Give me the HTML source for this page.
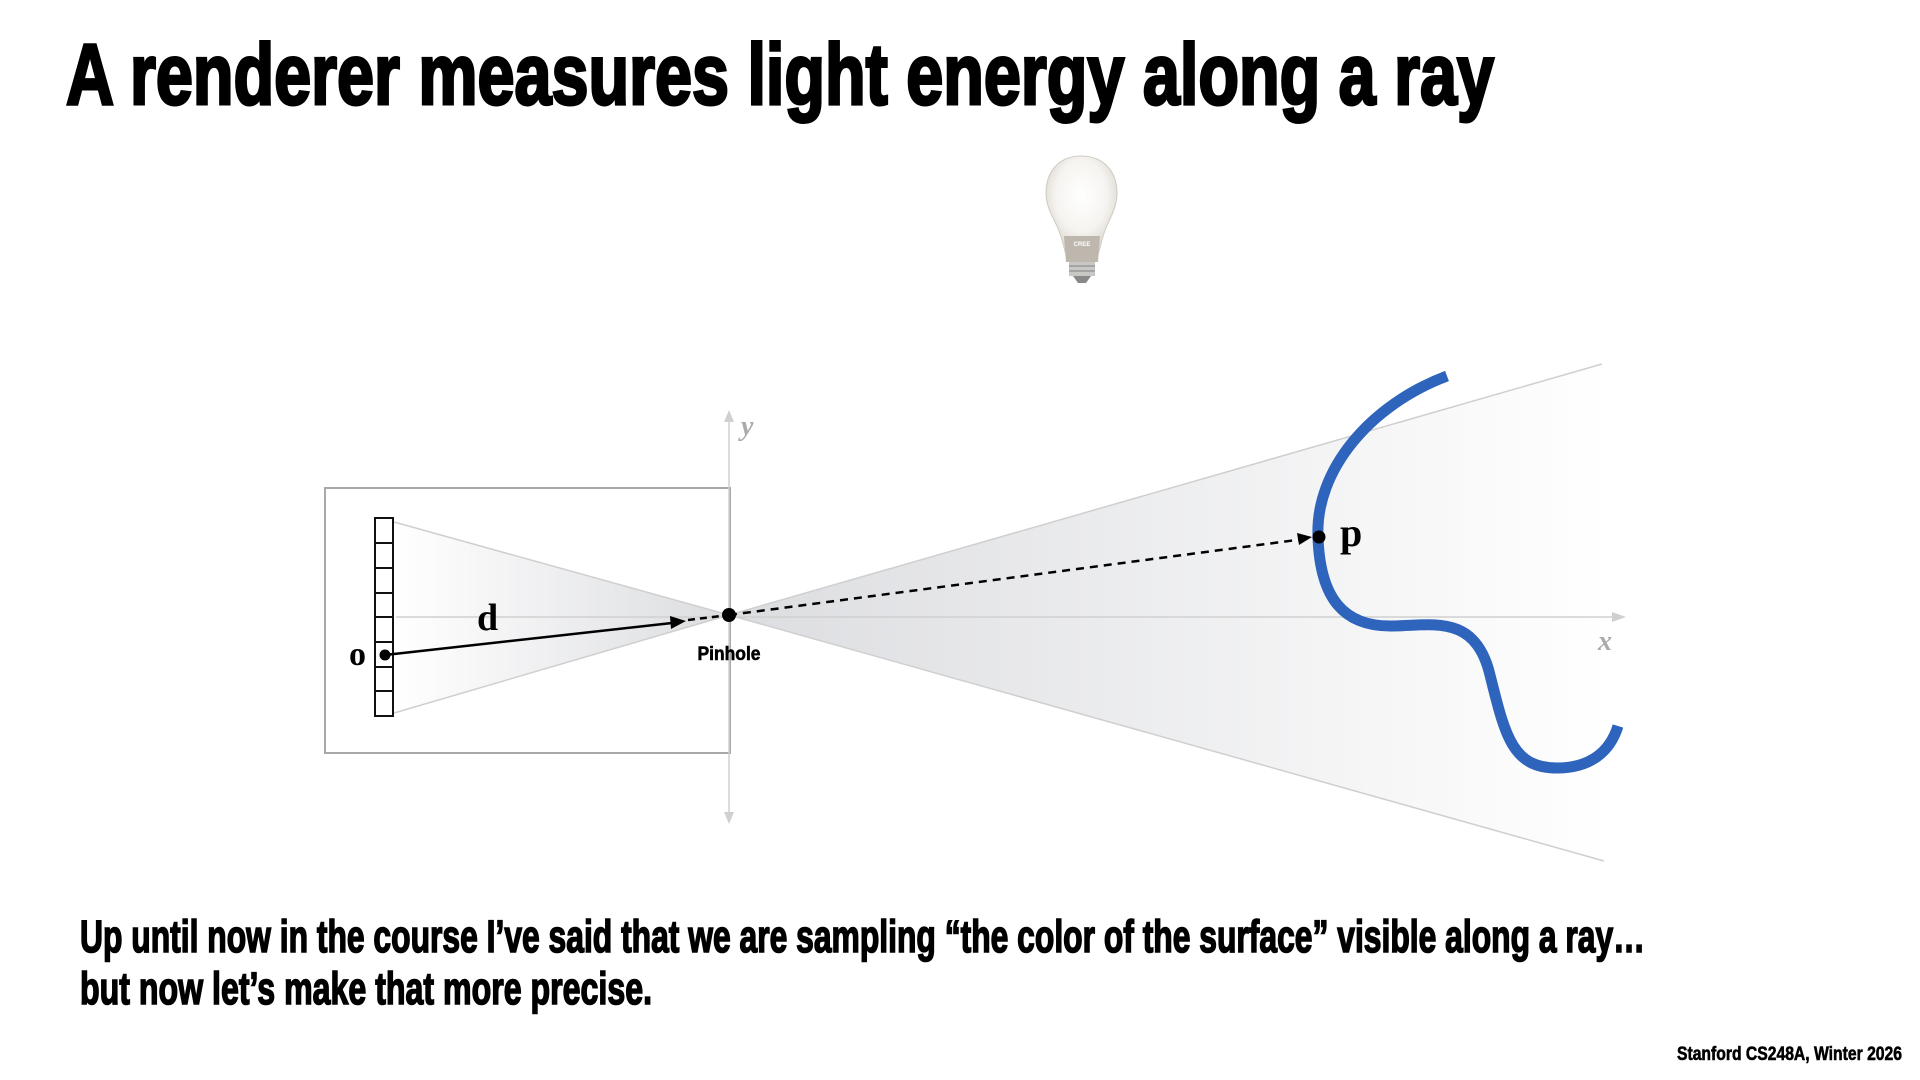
<!DOCTYPE html>
<html><head><meta charset="utf-8"><style>
html,body{margin:0;padding:0;background:#fff;}
svg{display:block;}
</style></head><body>
<svg width="1920" height="1080" viewBox="0 0 1920 1080" xmlns="http://www.w3.org/2000/svg">
<defs>
<linearGradient id="gl" x1="394" y1="0" x2="729" y2="0" gradientUnits="userSpaceOnUse">
<stop offset="0" stop-color="#ffffff"/><stop offset="1" stop-color="#dcdde0"/></linearGradient>
<linearGradient id="gr" x1="729" y1="0" x2="1610" y2="0" gradientUnits="userSpaceOnUse">
<stop offset="0" stop-color="#dcdde0"/><stop offset="1" stop-color="#ffffff"/></linearGradient>
<radialGradient id="bulb" cx="0.5" cy="0.4" r="0.6">
<stop offset="0" stop-color="#ffffff"/><stop offset="0.6" stop-color="#f6f4f0"/><stop offset="1" stop-color="#d8d4cc"/></radialGradient>
</defs>
<text x="66" y="104" font-family="Liberation Sans, sans-serif" font-weight="bold" font-size="86" stroke="#000" stroke-width="3" textLength="1428" lengthAdjust="spacingAndGlyphs">A renderer measures light energy along a ray</text>

<!-- bulb -->
<g>
<path d="M1081,156 C1058,156 1046,173 1046,193 C1046,212 1058,222 1062,240 L1066,255 L1098,255 L1102,240 C1106,222 1117,212 1117,193 C1117,173 1105,156 1081,156 Z" fill="url(#bulb)" stroke="#d0ccc4" stroke-width="1"/>
<path d="M1064,236 L1100,236 L1098,262 L1066,262 Z" fill="#bdb7ad"/>
<text x="1082" y="246" font-family="Liberation Sans, sans-serif" font-size="6" font-weight="bold" fill="#fff" text-anchor="middle">CREE</text>
<rect x="1069" y="262" width="26" height="14" fill="#c9c7c3"/>
<line x1="1069" y1="266" x2="1095" y2="266" stroke="#999" stroke-width="1.5"/>
<line x1="1069" y1="271" x2="1095" y2="271" stroke="#999" stroke-width="1.5"/>
<path d="M1073,276 L1091,276 L1086,283 L1078,283 Z" fill="#888"/>
</g>

<!-- cones -->
<polygon points="394,522 729,615 394,713" fill="url(#gl)"/>
<line x1="394" y1="522" x2="729" y2="615" stroke="#cfcfcf" stroke-width="1.5"/>
<line x1="394" y1="713" x2="729" y2="615" stroke="#cfcfcf" stroke-width="1.5"/>
<polygon points="729,615 1602,364 1604,861" fill="url(#gr)"/>
<line x1="729" y1="615" x2="1602" y2="364" stroke="#cfcfcf" stroke-width="1.5"/>
<line x1="729" y1="615" x2="1604" y2="861" stroke="#cfcfcf" stroke-width="1.5"/>

<rect x="325" y="488" width="405" height="265" fill="none" stroke="#a8a8a8" stroke-width="2"/>

<line x1="396" y1="617" x2="1616" y2="617" stroke="#d0d0d0" stroke-width="1.5"/>
<polygon points="1626,617 1612,612 1612,622" fill="#d0d0d0"/>
<line x1="729" y1="418" x2="729" y2="816" stroke="#d0d0d0" stroke-width="1.5"/>
<polygon points="729,410 724,422 734,422" fill="#d0d0d0"/>
<polygon points="729,824 724,812 734,812" fill="#d0d0d0"/>
<text x="741" y="435" font-family="Liberation Serif, serif" font-style="italic" font-weight="bold" font-size="28" fill="#aaa">y</text>
<text x="1598" y="650" font-family="Liberation Serif, serif" font-style="italic" font-weight="bold" font-size="28" fill="#aaa">x</text>

<rect x="375" y="518" width="18" height="198" fill="#fff" stroke="#111" stroke-width="2"/>
<g stroke="#111" stroke-width="2">
<line x1="375" y1="543" x2="393" y2="543"/><line x1="375" y1="568" x2="393" y2="568"/>
<line x1="375" y1="593" x2="393" y2="593"/><line x1="375" y1="617" x2="393" y2="617"/>
<line x1="375" y1="642" x2="393" y2="642"/><line x1="375" y1="667" x2="393" y2="667"/>
<line x1="375" y1="691" x2="393" y2="691"/>
</g>

<line x1="385" y1="655" x2="672" y2="623" stroke="#000" stroke-width="2.5"/>
<polygon points="686,621 670,616 671,629" fill="#000"/>
<line x1="688" y1="620" x2="729" y2="615" stroke="#000" stroke-width="2.5" stroke-dasharray="7,5"/>
<line x1="729" y1="615" x2="1304" y2="539" stroke="#000" stroke-width="2.5" stroke-dasharray="8,6"/>
<polygon points="1312,537 1297,533 1299,545" fill="#000"/>

<circle cx="385" cy="655" r="5.5" fill="#000"/>
<circle cx="729" cy="615" r="7" fill="#000"/>

<text x="349" y="665" font-family="Liberation Serif, serif" font-weight="bold" font-size="34">o</text>
<text x="477" y="630" font-family="Liberation Serif, serif" font-weight="bold" font-size="38">d</text>
<text x="729" y="660" font-family="Liberation Sans, sans-serif" font-weight="bold" font-size="19" stroke="#000" stroke-width="0.6" text-anchor="middle" textLength="63" lengthAdjust="spacingAndGlyphs">Pinhole</text>

<path d="M1447,376 C1370,405 1315,470 1318,537 C1320,600 1345,626 1390,626 C1430,626 1475,612 1490,675 C1505,735 1512,768 1557,768 C1590,768 1610,752 1618,726" fill="none" stroke="#2e64bc" stroke-width="11"/>
<circle cx="1319" cy="537" r="6.5" fill="#000"/>
<text x="1340" y="546" font-family="Liberation Serif, serif" font-weight="bold" font-size="40">p</text>

<text x="80" y="952" font-family="Liberation Sans, sans-serif" font-weight="bold" font-size="45" stroke="#000" stroke-width="1.6" textLength="1565" lengthAdjust="spacingAndGlyphs">Up until now in the course I’ve said that we are sampling “the color of the surface” visible along a ray…</text>
<text x="80" y="1004" font-family="Liberation Sans, sans-serif" font-weight="bold" font-size="45" stroke="#000" stroke-width="1.6" textLength="572" lengthAdjust="spacingAndGlyphs">but now let’s make that more precise.</text>
<text x="1677" y="1060" font-family="Liberation Sans, sans-serif" font-weight="bold" font-size="19" stroke="#000" stroke-width="0.6" textLength="225" lengthAdjust="spacingAndGlyphs">Stanford CS248A, Winter 2026</text>
</svg>
</body></html>
